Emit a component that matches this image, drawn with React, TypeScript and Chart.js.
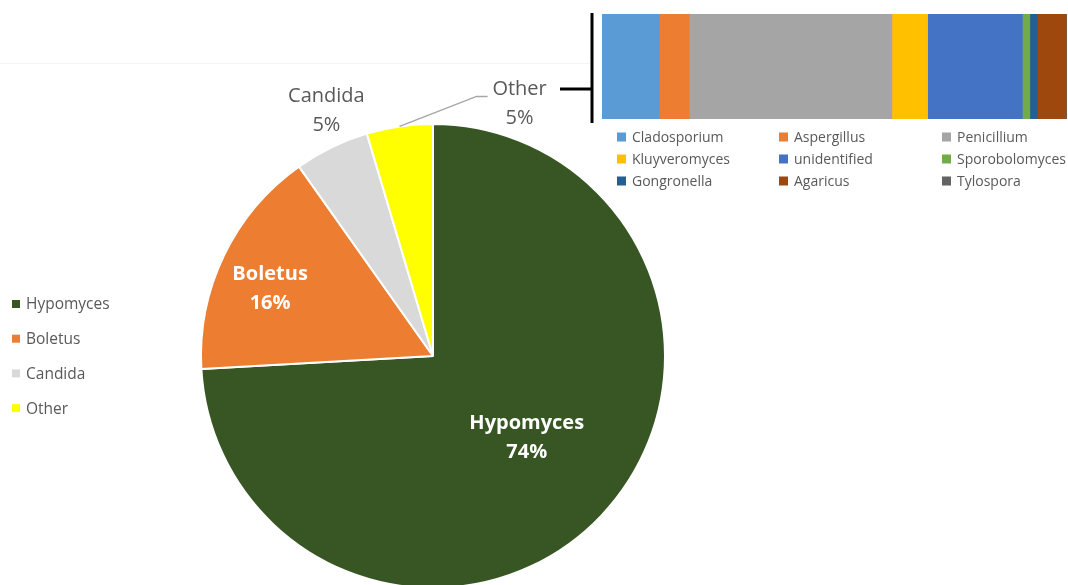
import React, { useEffect, useRef } from "react";
import { Chart, registerables } from "chart.js";
Chart.register(...registerables);

const pieLabels = ["Hypomyces", "Boletus", "Candida", "Other"];
const pieValues = [74.1, 16.1, 5.2, 4.6];
const pieColors = ["#375623", "#ED7D31", "#D9D9D9", "#FFFF00"];

const otherLabels = [
  "Cladosporium", "Aspergillus", "Penicillium",
  "Kluyveromyces", "unidentified", "Sporobolomyces",
  "Gongronella", "Agaricus", "Tylospora",
];
const otherValues = [12.3, 6.5, 43.6, 7.7, 20.4, 1.6, 1.6, 6.2, 0.2];
const otherColors = [
  "#5B9BD5", "#ED7D31", "#A5A5A5",
  "#FFC000", "#4472C4", "#70AD47",
  "#255E91", "#9E480E", "#636363",
];

const FONT = "'Open Sans', 'Liberation Sans', sans-serif";
const GREY = "#595959";

const piePlugin = {
  id: "pieDecor",
  afterDatasetsDraw(chart: any) {
    const ctx = chart.ctx;
    const meta = chart.getDatasetMeta(0);
    const total = pieValues.reduce((a, b) => a + b, 0);
    ctx.save();
    ctx.textAlign = "center";
    ctx.textBaseline = "middle";
    meta.data.forEach((arc: any, i: number) => {
      const { x, y, startAngle, endAngle, outerRadius } = arc.getProps(
        ["x", "y", "startAngle", "endAngle", "outerRadius"], true
      );
      const mid = (startAngle + endAngle) / 2;
      const pct = Math.round((pieValues[i] / total) * 100) + "%";
      if (i === 0 || i === 1) {
        const f = i === 0 ? 0.55 : 0.77;
        const cx = x + Math.cos(mid) * outerRadius * f + (i === 0 ? 1 : -2);
        const cy = y + Math.sin(mid) * outerRadius * f + (i === 0 ? -6 : 9.5);
        ctx.fillStyle = "#FFFFFF";
        ctx.font = `bold 20px ${FONT}`;
        ctx.fillText(pieLabels[i], cx, cy - 14);
        ctx.fillText(pct, cx, cy + 15);
      } else if (i === 2) {
        const cx = x + Math.cos(mid) * outerRadius * 1.16 + 11;
        const cy = y + Math.sin(mid) * outerRadius * 1.16 - 4;
        ctx.fillStyle = GREY;
        ctx.font = `20px ${FONT}`;
        ctx.fillText(pieLabels[i], cx, cy - 14);
        ctx.fillText(pct, cx, cy + 15);
      } else {
        const sx = x + Math.cos(mid) * outerRadius;
        const sy = y + Math.sin(mid) * outerRadius;
        const ex = sx + 77, ey = sy - 30;
        ctx.strokeStyle = "#A6A6A6";
        ctx.lineWidth = 1.5;
        ctx.beginPath();
        ctx.moveTo(sx, sy);
        ctx.lineTo(ex, ey);
        ctx.lineTo(ex + 11, ey);
        ctx.stroke();
        ctx.fillStyle = GREY;
        ctx.font = `20px ${FONT}`;
        ctx.fillText(pieLabels[i], ex + 43, ey - 7);
        ctx.fillText(pct, ex + 43, ey + 22);
      }
    });
    // left legend
    ctx.textAlign = "left";
    ctx.font = `15.5px ${FONT}`;
    pieLabels.forEach((l, i) => {
      const yy = 304 + i * 34.7;
      ctx.fillStyle = pieColors[i];
      ctx.fillRect(12, yy - 4, 8, 8);
      ctx.fillStyle = GREY;
      ctx.fillText(l, 26, yy + 1);
    });
    ctx.restore();
  },
};

const barPlugin = {
  id: "barDecor",
  afterDraw(chart: any) {
    const ctx = chart.ctx;
    const a = chart.chartArea;
    ctx.save();
    // faint guide line
    ctx.strokeStyle = "#F4F4F4";
    ctx.lineWidth = 1;
    ctx.beginPath();
    ctx.moveTo(0, 63.5);
    ctx.lineTo(a.left - 12, 63.5);
    ctx.stroke();
    // bracket
    ctx.strokeStyle = "#000000";
    ctx.lineWidth = 3;
    const vx = a.left - 10;
    ctx.beginPath();
    ctx.moveTo(vx, a.top - 1);
    ctx.lineTo(vx, a.bottom + 4);
    ctx.moveTo(560, a.top + 75);
    ctx.lineTo(vx, a.top + 75);
    ctx.stroke();
    // legend
    ctx.font = `14px ${FONT}`;
    ctx.textAlign = "left";
    ctx.textBaseline = "middle";
    const cols = [15, 177, 340];
    otherLabels.forEach((l, i) => {
      const c = i % 3, r = Math.floor(i / 3);
      const lx = a.left + cols[c];
      const ly = a.bottom + 18 + r * 22;
      ctx.fillStyle = otherColors[i];
      ctx.fillRect(lx, ly - 4.5, 9, 9);
      ctx.fillStyle = GREY;
      ctx.fillText(l, lx + 15, ly + 1);
    });
    ctx.restore();
  },
};

export default function App() {
  const pieRef = useRef<HTMLCanvasElement>(null);
  const barRef = useRef<HTMLCanvasElement>(null);

  useEffect(() => {
    const pie = new Chart(pieRef.current!, {
      type: "pie",
      data: {
        labels: pieLabels,
        datasets: [
          {
            data: pieValues,
            backgroundColor: pieColors,
            borderColor: "#FFFFFF",
            borderWidth: 2,
            radius: 232,
          } as any,
        ],
      },
      options: {
        responsive: false,
        animation: false,
        layout: { padding: { left: 201, right: 403, top: 124, bottom: 12 } },
        plugins: { legend: { display: false }, tooltip: { enabled: false } },
      },
      plugins: [piePlugin],
    });

    const total = otherValues.reduce((a, b) => a + b, 0);
    const bar = new Chart(barRef.current!, {
      type: "bar",
      data: {
        labels: ["Other"],
        datasets: otherLabels.map((l, i) => ({
          label: l,
          data: [otherValues[i]],
          backgroundColor: otherColors[i],
          borderWidth: 0,
          categoryPercentage: 1,
          barPercentage: 1,
        })),
      },
      options: {
        indexAxis: "y",
        responsive: false,
        animation: false,
        layout: { padding: { left: 602, right: 1, top: 14, bottom: 466 } },
        scales: {
          x: { stacked: true, display: false, min: 0, max: total },
          y: { stacked: true, display: false },
        },
        plugins: { legend: { display: false }, tooltip: { enabled: false } },
      },
      plugins: [barPlugin],
    });

    return () => {
      pie.destroy();
      bar.destroy();
    };
  }, []);

  return (
    <div
      style={{
        position: "absolute",
        left: 0,
        top: 0,
        width: 1068,
        height: 585,
        overflow: "hidden",
        background: "#FFFFFF",
      }}
    >
      <canvas
        ref={pieRef}
        width={1068}
        height={600}
        style={{ position: "absolute", left: 0, top: 0, width: 1068, height: 600 }}
      />
      <canvas
        ref={barRef}
        width={1068}
        height={585}
        style={{ position: "absolute", left: 0, top: 0, width: 1068, height: 585 }}
      />
    </div>
  );
}
